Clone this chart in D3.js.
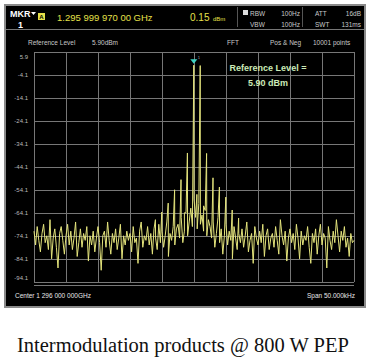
<!DOCTYPE html>
<html>
<head>
<meta charset="utf-8">
<title>IMD spectrum</title>
<script src="https://d3js.org/d3.v7.min.js"></script>
<style>
  body { margin: 0; background: #fff; }
  svg { display: block; font-family: "Liberation Sans", Arial, sans-serif; }
</style>
</head>
<body>
<svg id="plot" width="371" height="364"></svg>
<script>
// y grid / labels in dBm (reference level 5.90 dBm, 10 dB/div)
const yTicks = [5.9, -4.1, -14.1, -24.1, -34.1, -44.1, -54.1, -64.1, -74.1, -84.1, -94.1];
// frequency grid in kHz offset from center, span 50 kHz
const xTicks = [-25, -20, -15, -10, -5, 0, 5, 10, 15, 20, 25];

// two tones [kHz, dBm]
const tones = [[-0.03, 0.15], [0.97, 0.0]];
// intermodulation products [kHz, dBm]
const imProducts = [
  [-1.03, -38], [1.97, -38.2],
  [-2.03, -49.6], [2.97, -48.8],
  [-3.03, -54], [3.97, -52.8],
  [-4.03, -59.8], [4.97, -57.2],
  [-5.03, -63.7], [5.97, -62.8],
  [-6.03, -67], [6.97, -66.3],
  [-0.5, -62], [1.5, -61], [0.45, -56], [-1.5, -64]
];

// noise floor, one value every 0.25 kHz from -25 to +25 kHz (dBm)
const noise = [
  -72, -78, -70, -76, -81, -73, -69, -77, -74, -80,
  -67, -84, -75, -71, -79, -88, -73, -70, -76, -82,
  -74, -69, -78, -72, -80, -75, -68, -83, -77, -71,
  -79, -73, -76, -70, -85, -74, -78, -72, -81, -75,
  -70, -77, -89, -74, -72, -79, -68, -76, -82, -73,
  -77, -71, -80, -75, -69, -84, -74, -78, -72, -76,
  -73, -81, -70, -77, -75, -86, -72, -68, -79, -74,
  -76, -70, -78, -73, -82, -71, -75, -80, -69, -77,
  -72, -79, -74, -68, -83, -73, -76, -70, -78, -71,
  -69, -75, -66, -77, -72, -64, -74, -68, -62, -70,
  -58, -66, -71, -60, -69, -65, -72, -63, -74, -67,
  -70, -75, -68, -79, -73, -66, -77, -71, -82, -74,
  -69, -78, -72, -76, -84, -70, -75, -80, -73, -77,
  -71, -79, -74, -68, -81, -76, -73, -86, -70, -75,
  -78, -72, -77, -69, -83, -74, -71, -80, -75, -73,
  -79, -70, -76, -82, -67, -74, -78, -72, -85, -75,
  -71, -77, -73, -80, -69, -75, -84, -72, -78, -74,
  -76, -70, -79, -86, -73, -77, -71, -82, -74, -69,
  -78, -73, -75, -88, -70, -76, -80, -72, -77, -67,
  -74, -81, -72, -76, -70, -79, -75, -83, -73, -77,
  -76
];

const svg = d3.select("#plot");

// instrument screen
svg.append("rect").attr("x", 5).attr("y", 5).attr("width", 360).attr("height", 302)
  .attr("fill", "#000").attr("stroke", "#8a8a8a").attr("stroke-width", 2);

// header
const hdr = svg.append("g");
hdr.append("line").attr("x1", 6).attr("x2", 364).attr("y1", 29.5).attr("y2", 29.5).attr("stroke", "#777");
[237.5, 302.5].forEach(function (sx) {
  hdr.append("line").attr("x1", sx).attr("x2", sx).attr("y1", 7).attr("y2", 27).attr("stroke", "#555");
});
hdr.append("text").attr("x", 10).attr("y", 17).attr("fill", "#fff").attr("font-size", 9).attr("font-weight", "bold").text("MKR");
hdr.append("path").attr("d", "M31,12 L36,12 L33.5,15 Z").attr("fill", "#fff");
hdr.append("text").attr("x", 18).attr("y", 28).attr("fill", "#fff").attr("font-size", 9).attr("font-weight", "bold").text("1");
hdr.append("rect").attr("x", 38).attr("y", 13).attr("width", 7).attr("height", 7).attr("fill", "#e6e04a");
hdr.append("text").attr("x", 41.5).attr("y", 19).attr("text-anchor", "middle").attr("fill", "#000").attr("font-size", 6).attr("font-weight", "bold").text("A");
hdr.append("text").attr("x", 57).attr("y", 21).attr("fill", "#e6e04a").attr("font-size", 9.5).text("1.295 999 970 00 GHz");
hdr.append("text").attr("x", 190).attr("y", 21).attr("fill", "#e6e04a").attr("font-size", 10).text("0.15");
hdr.append("text").attr("x", 213).attr("y", 21).attr("fill", "#e6e04a").attr("font-size", 6).text("dBm");

const small = { fill: "#c8c8c8", size: 6.5 };
function htext(x, y, t, anchor) {
  hdr.append("text").attr("x", x).attr("y", y).attr("fill", small.fill).attr("font-size", small.size)
    .attr("text-anchor", anchor || "start").text(t);
}
hdr.append("rect").attr("x", 243).attr("y", 10).attr("width", 5).attr("height", 5).attr("fill", "#ddd");
htext(250, 15.5, "RBW"); htext(250, 26.5, "VBW");
htext(300, 15.5, "100Hz", "end"); htext(300, 26.5, "100Hz", "end");
htext(315, 15.5, "ATT"); htext(315, 26.5, "SWT");
htext(361, 15.5, "16dB", "end"); htext(361, 26.5, "131ms", "end");
htext(28, 45, "Reference Level"); htext(92, 45, "5.90dBm");
htext(227, 45, "FFT"); htext(270, 45, "Pos & Neg"); htext(313, 45, "10001 points");

// plot area
const x = d3.scaleLinear().domain([-25, 25]).range([34, 354]);
const y = d3.scaleLinear().domain([5.9, -94.1]).range([52, 282]);

const gx = svg.append("g").attr("transform", "translate(0,282)")
  .call(d3.axisBottom(x).tickValues(xTicks).tickSize(-230).tickFormat(""));
gx.select(".domain").remove();
gx.selectAll("line").attr("stroke", "#777");

const gy = svg.append("g").attr("transform", "translate(34,0)")
  .call(d3.axisLeft(y).tickValues(yTicks).tickSize(-320).tickPadding(6).tickFormat(d => d.toFixed(1)));
gy.select(".domain").remove();
gy.selectAll("line").attr("stroke", "#777");
gy.selectAll("text").attr("fill", "#bbb").attr("font-size", 6)
  .attr("font-family", "'Liberation Sans', Arial, sans-serif");
gy.selectAll("text").filter(d => d === 5.9).attr("y", 5);
gy.selectAll("text").filter(d => d === -94.1).attr("y", -4);

svg.append("line").attr("x1", 34).attr("x2", 354).attr("y1", 285.5).attr("y2", 285.5).attr("stroke", "#777");

// trace
const trace = noise.map((v, i) => [-25 + i * 0.25, v])
  .concat(tones, imProducts)
  .sort((a, b) => a[0] - b[0]);

svg.append("path").datum(trace)
  .attr("fill", "none").attr("stroke", "#e4e47c").attr("stroke-width", 1)
  .attr("d", d3.line().x(d => x(d[0])).y(d => y(d[1])));

// marker
const mx = x(tones[0][0]), my = y(tones[0][1]);
svg.append("path").attr("d", `M${mx - 3.5},${my - 6} L${mx + 3.5},${my - 6} L${mx},${my - 1.5} Z`).attr("fill", "#3fd4c4");
svg.append("text").attr("x", mx + 4).attr("y", my - 6).attr("fill", "#aaa").attr("font-size", 4).text("1");

// annotation
svg.append("text").attr("x", 268).attr("y", 71).attr("text-anchor", "middle").attr("fill", "#cdebb8")
  .attr("font-size", 9).attr("font-weight", "bold").text("Reference Level =");
svg.append("text").attr("x", 268).attr("y", 86).attr("text-anchor", "middle").attr("fill", "#cdebb8")
  .attr("font-size", 9).attr("font-weight", "bold").text("5.90 dBm");

// footer
svg.append("text").attr("x", 15).attr("y", 298).attr("fill", "#e8e8e8").attr("font-size", 6.5).text("Center 1 296 000 000GHz");
svg.append("text").attr("x", 355).attr("y", 298).attr("text-anchor", "end").attr("fill", "#e8e8e8").attr("font-size", 6.5).text("Span 50.000kHz");

// caption
svg.append("text").attr("x", 17).attr("y", 352).attr("fill", "#111")
  .attr("font-family", "'Liberation Serif', 'Times New Roman', serif").attr("font-size", 20.5)
  .text("Intermodulation products @ 800 W PEP");
</script>
</body>
</html>
